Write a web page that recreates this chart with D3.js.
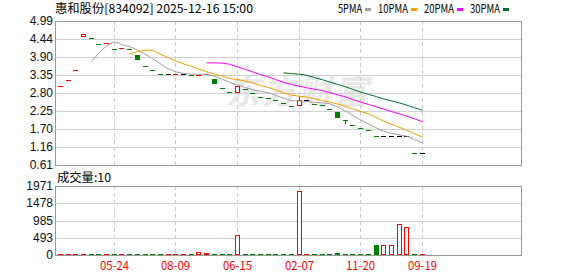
<!DOCTYPE html>
<meta charset="utf-8">
<style>
body { margin: 0; background: #fff; }
svg { display: block; }
text { font-family: SimSun, "Noto Sans CJK SC", sans-serif; font-size: 12px; }
.num { font-family: "Liberation Sans", Arial, sans-serif; font-size: 12px; }
</style>
<body>
<svg width="578" height="276"></svg>
<script src="https://cdn.jsdelivr.net/npm/d3@7/dist/d3.min.js"></script>
<script>

// candles (oldest first)
var opens  = [3.01,3.19,3.49,4.52,4.46,4.29,4.31,4.14,4.16,4.14, 3.95,3.62,3.49,3.37,3.37,3.38,3.38,3.34,3.36,3.37,
              3.23,2.94,2.84,2.82,2.93,2.79,2.67,2.66,2.59,2.51, 2.41,2.43,2.60,2.46,2.43,2.31,2.23,1.98,1.83,1.73,
              1.66,1.49,1.49,1.49,1.49,1.49,0.97,0.97];
var closes = [3.01,3.19,3.49,4.60,4.46,4.29,4.31,4.14,4.16,4.14, 3.82,3.62,3.49,3.37,3.37,3.38,3.38,3.34,3.36,3.37,
              3.10,2.94,2.84,3.01,2.93,2.79,2.67,2.66,2.59,2.51, 2.41,2.60,2.60,2.46,2.43,2.31,2.07,1.98,1.83,1.73,
              1.66,1.49,1.49,1.49,1.49,1.49,0.97,0.97];
var highs  = [3.01,3.19,3.49,4.60,4.46,4.29,4.31,4.14,4.16,4.14, 3.95,3.62,3.49,3.37,3.37,3.38,3.38,3.34,3.36,3.37,
              3.23,2.94,2.84,3.01,2.93,2.79,2.67,2.66,2.59,2.51, 2.41,2.72,2.60,2.46,2.43,2.31,2.23,1.98,1.83,1.73,
              1.66,1.49,1.49,1.49,1.49,1.49,0.97,0.97];
var lows   = [3.01,3.19,3.49,4.52,4.46,4.29,4.31,4.14,4.16,4.14, 3.82,3.62,3.49,3.37,3.37,3.38,3.38,3.34,3.36,3.37,
              3.10,2.94,2.84,2.82,2.93,2.79,2.67,2.66,2.59,2.51, 2.41,2.43,2.60,2.46,2.43,2.31,2.07,1.90,1.83,1.73,
              1.66,1.49,1.49,1.49,1.49,1.49,0.97,0.97];
var volumes = [12,10,15,20,10,10,12,10,10,10, 15,10,10,10,10,12,10,10,85,55,
               10,10,10,563,10,10,10,10,10,10, 10,1820,15,10,10,10,60,10,10,10,
               10,290,290,290,877,791,10,10];

var priceTicks = [4.99,4.44,3.90,3.35,2.80,2.25,1.70,1.16,0.61];
var volTicks = [1971,1478,985,493,0];
var xTickIndex = [7,15,23,31,39,47];
var xTickLabels = ["05-24","08-09","06-15","02-07","11-20","09-19"];

var maPeriods = [5,10,20,30];
var maNames = ["5PMA","10PMA","20PMA","30PMA"];
var maColors = ["#a0a0a0","#f0a000","#ff00ff","#006f30"];

var RED = "#ff0000", GREEN = "#008000";

var svg = d3.select("svg");
var left = 56, right = 522;

var x = d3.scaleBand().domain(d3.range(60)).range([left, left + 60 * 7.7]).padding(0);
var cx = function(i) { return Math.round(x(i) + x.bandwidth() / 2); };

var y = d3.scaleLinear().domain([0.61, 4.99]).range([165, 21]);
var yv = d3.scaleLinear().domain([0, 1971]).range([255, 186]);

// half-width ascii like the bitmap font of the original
function monoLen(s) {
  var n = 0;
  for (var i = 0; i < s.length; i++) n += s.charCodeAt(i) > 255 ? 12 : 6;
  return n;
}

// watermark
svg.append("text")
    .attr("x", 226).attr("y", 104)
    .attr("fill", "#e8e8e8")
    .attr("font-weight", "bold")
    .attr("font-style", "italic")
    .attr("letter-spacing", "2")
    .style("font-size", "34px")
    .text("东方财富");

function panel(yScale, ticks, fmt) {
  var g = svg.append("g").attr("shape-rendering", "crispEdges");
  var top = yScale.range()[1], bottom = yScale.range()[0];
  g.selectAll(".h").data(ticks).enter().append("line")
      .attr("x1", left).attr("x2", right)
      .attr("y1", function(d) { return Math.round(yScale(d)) + 0.5; })
      .attr("y2", function(d) { return Math.round(yScale(d)) + 0.5; })
      .attr("stroke", "#d0d0d0");
  g.selectAll(".v").data(xTickIndex).enter().append("line")
      .attr("x1", function(d) { return cx(d) + 0.5; })
      .attr("x2", function(d) { return cx(d) + 0.5; })
      .attr("y1", top).attr("y2", bottom)
      .attr("stroke", "#cccccc")
      .attr("stroke-dasharray", "4,3");
  g.append("rect")
      .attr("x", left - 0.5).attr("y", top + 0.5)
      .attr("width", right - left).attr("height", bottom - top)
      .attr("fill", "none").attr("stroke", "#999");
  svg.selectAll(null).data(ticks).enter().append("text")
      .attr("class", "num")
      .attr("x", 53)
      .attr("y", function(d) { return yScale(d); })
      .attr("dy", "0.35em")
      .attr("text-anchor", "end")
      .attr("fill", "#111")
      .text(fmt);
}
panel(y, priceTicks, function(d) { return d.toFixed(2); });
panel(yv, volTicks, function(d) { return d; });

// candle colour: body direction, else versus previous close
function dir(i) {
  if (closes[i] > opens[i]) return 1;
  if (closes[i] < opens[i]) return -1;
  if (i === 0) return 1;
  if (closes[i] > closes[i - 1]) return 1;
  if (closes[i] < closes[i - 1]) return -1;
  return 0;
}

var cg = svg.append("g").attr("shape-rendering", "crispEdges");
closes.forEach(function(c, i) {
  var d = dir(i), xc = cx(i);
  var col = d > 0 ? RED : d < 0 ? GREEN : "#000";
  var yo = Math.round(y(opens[i])), yc = Math.round(y(c));
  var yh = Math.round(y(highs[i])), yl = Math.round(y(lows[i]));
  if (yh !== yl) {
    cg.append("line")
        .attr("x1", xc + 0.5).attr("x2", xc + 0.5)
        .attr("y1", yh).attr("y2", yl + 1)
        .attr("stroke", col);
  }
  if (yo === yc) {
    cg.append("rect").attr("x", xc - 2).attr("y", yc).attr("width", 5).attr("height", 1).attr("fill", col);
  } else if (c > opens[i]) {
    cg.append("rect")
        .attr("x", xc - 1.5).attr("y", Math.min(yo, yc) + 0.5)
        .attr("width", 4).attr("height", Math.abs(yo - yc))
        .attr("fill", "#fff").attr("stroke", RED);
  } else {
    cg.append("rect")
        .attr("x", xc - 2).attr("y", Math.min(yo, yc))
        .attr("width", 5).attr("height", Math.abs(yo - yc) + 1)
        .attr("fill", GREEN);
  }
});

// moving averages
maPeriods.forEach(function(p, k) {
  var pts = closes.map(function(c, i) {
    return i < p - 1 ? null : d3.mean(closes.slice(i - p + 1, i + 1));
  });
  var line = d3.line()
      .defined(function(d) { return d !== null; })
      .x(function(d, i) { return cx(i) + 0.5; })
      .y(function(d) { return y(d); });
  svg.append("path")
      .datum(pts)
      .attr("d", line)
      .attr("fill", "none")
      .attr("stroke", maColors[k])
      .attr("stroke-width", 1);
});

// volume
var vg = svg.append("g").attr("shape-rendering", "crispEdges");
volumes.forEach(function(v, i) {
  var up = dir(i) >= 0, xc = cx(i);
  var top = Math.round(yv(v)), h = 255 - top;
  if (h < 3) {
    vg.append("rect").attr("x", xc - 2).attr("y", 255 - Math.max(1, h)).attr("width", 5)
        .attr("height", Math.max(1, h)).attr("fill", up ? RED : GREEN);
  } else if (up) {
    vg.append("rect").attr("x", xc - 1.5).attr("y", top + 0.5).attr("width", 4).attr("height", h - 1)
        .attr("fill", "#fff").attr("stroke", RED);
  } else {
    vg.append("rect").attr("x", xc - 2).attr("y", top).attr("width", 5).attr("height", h)
        .attr("fill", GREEN);
  }
});

// x labels
svg.selectAll(null).data(xTickIndex).enter().append("text")
    .attr("x", function(d) { return cx(d) + 0.5; })
    .attr("y", 270)
    .attr("text-anchor", "middle")
    .attr("fill", RED)
    .attr("textLength", 29)
    .attr("lengthAdjust", "spacingAndGlyphs")
    .text(function(d, i) { return xTickLabels[i]; });

// titles
var title = "惠和股份[834092] 2025-12-16 15:00";
svg.append("text").attr("x", 55).attr("y", 13).attr("fill", "#000")
    .attr("textLength", monoLen(title)).attr("lengthAdjust", "spacingAndGlyphs")
    .text(title);
var volTitle = "成交量:" + volumes[volumes.length - 1];
svg.append("text").attr("x", 57).attr("y", 182).attr("fill", "#000")
    .attr("textLength", monoLen(volTitle)).attr("lengthAdjust", "spacingAndGlyphs")
    .text(volTitle);

// legend
var lx = 338;
maNames.forEach(function(n, k) {
  var w = monoLen(n);
  svg.append("text").attr("x", lx).attr("y", 13).attr("fill", "#000")
      .attr("textLength", w).attr("lengthAdjust", "spacingAndGlyphs")
      .text(n);
  svg.append("rect").attr("x", lx + w + 3).attr("y", 8).attr("width", 6).attr("height", 3)
      .attr("fill", maColors[k]);
  lx = lx + w + 16;
});

</script>
</body>
